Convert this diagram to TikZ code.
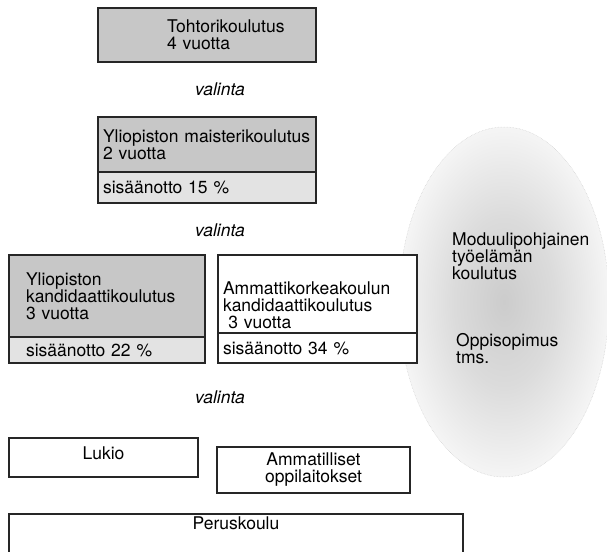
\documentclass[tikz,border=0pt]{standalone}
\usepackage{fontspec}
\setmainfont{TeX Gyre Heros}
\usetikzlibrary{positioning}

% soft grey cloud behind the work-life block
\pgfdeclareradialshading{cloud}{\pgfpoint{0bp}{0bp}}{color(0bp)=(black!20); color(12bp)=(black!14); color(25bp)=(black!4); color(50bp)=(white)}

\begin{document}
\begin{tikzpicture}[x=1pt, y=-1pt, font=\fontsize{17.5}{17}\selectfont,
    part/.style={draw=black!85, line width=1.2pt, rectangle, outer sep=0pt, inner ysep=0pt, align=left},
    choice/.style={font=\fontsize{17.5}{17}\selectfont\itshape}]
    % Define styles for the filled and plain boxes
    \tikzstyle{upper} = [part, fill=black!22]
    \tikzstyle{lower} = [part, fill=black!11]
    \tikzstyle{plain} = [part, fill=white]
    \tikzstyle{note} = [anchor=north west, inner sep=0pt, align=left]

    \useasboundingbox (0,0) rectangle (607,551);

    % Cloud in the background
    \path[shade, shading=cloud, draw=black!20, densely dotted, line width=0.5pt] (504,302) ellipse [x radius=105, y radius=175];

    % Nodes placement
    \node [upper, minimum width=218pt, minimum height=54pt, inner xsep=7pt, text width=204pt] (tohtori) at (207,35) {\hspace*{62pt}Tohtorikoulutus\\\hspace*{62pt}4 vuotta};
    \node [choice, below of=tohtori, node distance=54pt, xshift=13pt] (valinta1) {valinta};

    \node [upper, minimum width=218pt, minimum height=55pt, inner xsep=5pt, text width=208pt] (maisteri) at (207,144.5) {Yliopiston maisterikoulutus\\2 vuotta};
    \node [lower, minimum width=218pt, minimum height=31pt, inner xsep=5pt, text width=208pt, below=0pt of maisteri] (maisteriosuus) {sis\"a\"anotto 15 \%};
    \node [choice, below of=valinta1, node distance=141pt] (valinta2) {valinta};

    \node [upper, minimum width=196pt, minimum height=82pt, inner xsep=17pt, text width=162pt] (kandi) at (107,296) {Yliopiston\\kandidaattikoulutus\\3 vuotta};
    \node [lower, minimum width=196pt, minimum height=26pt, inner xsep=17pt, text width=162pt, below=0pt of kandi] (kandiosuus) {sis\"a\"anotto 22 \%};
    \node [plain, minimum width=199pt, minimum height=78pt, inner xsep=5pt, text width=189pt, text depth=12pt] (amk) at (317.5,294) {Ammattikorkeakoulun\\kandidaattikoulutus\\\hspace*{0.3em}3 vuotta};
    \node [plain, minimum width=199pt, minimum height=30pt, inner xsep=5pt, text width=189pt, below=0pt of amk] (amkosuus) {sis\"a\"anotto 34 \%};
    \node [choice, below of=valinta2, node distance=167pt] (valinta3) {valinta};

    \node [plain, minimum width=189pt, minimum height=39pt, text depth=8pt] (lukio) at (103.5,457.5) {Lukio};
    \node [plain, minimum width=193pt, minimum height=46pt, align=center] (ammatilliset) at (313.5,470) {Ammatilliset\\oppilaitokset};
    \node [plain, minimum width=454pt, anchor=north, text height=15.5pt, text depth=23.5pt] (perus) at (236,514) {Peruskoulu};

    % Texts in the cloud
    \node [note] (moduuli) at (452,233) {Moduulipohjainen\\ty\"oel\"am\"an\\koulutus};
    \node [note] (oppisopimus) at (456,333) {Oppisopimus\\tms.};
\end{tikzpicture}
\end{document}
